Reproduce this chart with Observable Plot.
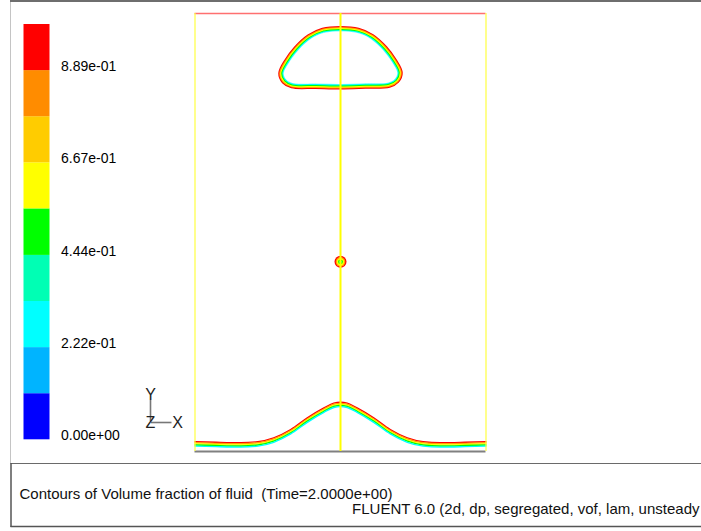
<!DOCTYPE html>
<html>
<head>
<meta charset="utf-8">
<script src="https://cdn.jsdelivr.net/npm/d3@7"></script>
<script src="https://cdn.jsdelivr.net/npm/@observablehq/plot@0.6"></script>
<style>
  html, body { margin: 0; padding: 0; background: #ffffff; }
  #wrap { position: relative; width: 701px; height: 531px; overflow: hidden; background: #fff;
          font-family: "Liberation Sans", Arial, sans-serif; }
  #wrap > svg { position: absolute; left: 0; top: 0; overflow: visible; }
  #frame text { white-space: pre; }
</style>
</head>
<body>
<div id="wrap"></div>
<script>
// ---------------- data ----------------
// legend: contour levels of volume fraction
const levelEdges  = [0, 0.111, 0.222, 0.333, 0.444, 0.556, 0.667, 0.778, 0.889, 1.0];
const levelColors = ["#0000ff", "#00b4ff", "#00ffff", "#00ffb4", "#00ff00", "#ffff00", "#ffcc00", "#ff8c00", "#ff0000"];
const legendTicks  = [0, 0.222, 0.444, 0.667, 0.889];
const legendLabels = ["0.00e+00", "2.22e-01", "4.44e-01", "6.67e-01", "8.89e-01"];

// contour line colours drawn across the interface (outer -> inner)
const interfaceColors = ["#ff0000", "#ffa200", "#ffff00", "#00ff00", "#00ffff"];

// domain (x: -1..1, y: 0..3)
const wallX   = [-1, 1];
const axisX   = [0];
const topY    = [3];
const bottomY = [0];

// large bubble near the top (inner edge of the interface band)
const bubbleX = [0, -0.116, -0.205, -0.291, -0.353, -0.390, -0.373, -0.329, -0.171, 0, 0.171, 0.329, 0.373, 0.390, 0.353, 0.291, 0.205, 0.116];
const bubbleY = [2.877, 2.866, 2.825, 2.747, 2.664, 2.589, 2.548, 2.524, 2.521, 2.517, 2.522, 2.528, 2.552, 2.593, 2.667, 2.750, 2.827, 2.866];

// small droplet on the axis
const dropX = [0];
const dropY = [1.299];

// liquid surface near the bottom (top edge of the band)
const poolX = [-1, -0.856, -0.685, -0.568, -0.459, -0.342, -0.228, -0.114, -0.046, 0, 0.046, 0.114, 0.228, 0.342, 0.459, 0.568, 0.685, 0.856, 1];
const poolY = [0.072, 0.068, 0.065, 0.072, 0.098, 0.155, 0.235, 0.303, 0.336, 0.342, 0.336, 0.303, 0.235, 0.155, 0.098, 0.072, 0.065, 0.068, 0.072];

const captionLine1 = "Contours of Volume fraction of fluid  (Time=2.0000e+00)";
const captionLine2 = "FLUENT 6.0 (2d, dp, segregated, vof, lam, unsteady";

// ---------------- build ----------------
const bubble = bubbleX.map((x, i) => ({x, y: bubbleY[i]}));
const pool   = poolX.map((x, i) => ({x, y: poolY[i]}));
const drop   = dropX.map((x, i) => ({x, y: dropY[i]}));

const bubbleWidths = [11, 9, 7, 5, 3];
const dropRadii    = [6, 4.8, 3.6, 2.4, 1.2];

const marks = [];
// bubble: layered strokes then white interior
interfaceColors.forEach((c, i) => {
  marks.push(Plot.line(bubble, {x: "x", y: "y", curve: "catmull-rom-closed", stroke: c, strokeWidth: bubbleWidths[i]}));
});
marks.push(Plot.line(bubble, {x: "x", y: "y", curve: "catmull-rom-closed", fill: "white", stroke: "white", strokeWidth: 0.5}));
// pool surface: offset lines
interfaceColors.forEach((c, i) => {
  marks.push(Plot.line(pool, {x: "x", y: "y", curve: "monotone-x", stroke: c, strokeWidth: 1.4, dy: 0.7 + i * 1.1}));
});
// droplet
interfaceColors.forEach((c, i) => {
  marks.push(Plot.dot(drop, {x: "x", y: "y", r: dropRadii[i], fill: c, stroke: "none"}));
});
// walls
marks.push(Plot.ruleY(bottomY, {x1: -1, x2: 1, stroke: "#808080", strokeWidth: 2}));
marks.push(Plot.ruleY(topY, {x1: -1, x2: 1, stroke: "#ff7070", strokeWidth: 1.5}));
marks.push(Plot.ruleX(wallX, {y1: 0, y2: 3, stroke: "#ffff40", strokeWidth: 1.2}));
marks.push(Plot.ruleX(axisX, {y1: 0, y2: 3, stroke: "#ffff00", strokeWidth: 2}));

const main = Plot.plot({
  width: 701, height: 531, margin: 0,
  x: {domain: [-1, 1], range: [194.5, 485.5], axis: null},
  y: {domain: [0, 3], range: [451, 13], axis: null},
  style: {background: "transparent", overflow: "visible"},
  marks
});

const bands = levelColors.map((c, i) => ({lo: levelEdges[i], hi: levelEdges[i + 1], color: c}));
const ticks = legendTicks.map((v, i) => ({v, label: legendLabels[i]}));

const legend = Plot.plot({
  width: 200, height: 460, margin: 0,
  x: {domain: [0, 1], range: [23.5, 49.5], axis: null},
  y: {domain: [0, 1], range: [439.3, 24], axis: null},
  color: {type: "identity"},
  style: {background: "transparent", overflow: "visible", fontFamily: "'Liberation Sans', Arial, sans-serif"},
  marks: [
    Plot.rect(bands, {x1: 0, x2: 1, y1: "lo", y2: "hi", fill: "color"}),
    Plot.text(ticks, {x: 1, y: "v", text: "label", dx: 11, dy: -4, textAnchor: "start", lineAnchor: "middle", fontSize: 14, fill: "#000"})
  ]
});

const wrap = document.getElementById("wrap");
const ns = "http://www.w3.org/2000/svg";
const frame = document.createElementNS(ns, "svg");
frame.setAttribute("id", "frame");
frame.setAttribute("width", 701);
frame.setAttribute("height", 531);
frame.innerHTML = `
  <line x1="10.5" y1="0" x2="10.5" y2="463" stroke="#c4c4c4" stroke-width="1"/>
  <line x1="10" y1="1" x2="701" y2="1" stroke="#6e6e6e" stroke-width="2"/>
  <line x1="10.5" y1="463.5" x2="701" y2="463.5" stroke="#6a6a6a" stroke-width="1.2"/>
  <line x1="11" y1="463" x2="11" y2="527" stroke="#555" stroke-width="1.5"/>
  <line x1="10.5" y1="526.5" x2="701" y2="526.5" stroke="#555" stroke-width="1.5"/>
  <line x1="150.5" y1="400" x2="150.5" y2="421" stroke="#777" stroke-width="1.6"/>
  <line x1="151" y1="422.5" x2="171.5" y2="422.5" stroke="#777" stroke-width="1.6"/>
  <g font-family="'Liberation Sans', Arial, sans-serif" font-size="16" fill="#222" text-anchor="middle">
    <text x="150.5" y="400">Y</text>
    <text x="150.5" y="428">Z</text>
    <text x="177.5" y="428">X</text>
  </g>
  <g font-family="'Liberation Sans', Arial, sans-serif" font-size="15" fill="#111">
    <text x="19.5" y="498.5" xml:space="preserve">${captionLine1}</text>
    <text x="699.5" y="514" text-anchor="end">${captionLine2}</text>
  </g>`;
wrap.appendChild(main);
wrap.appendChild(legend);
wrap.appendChild(frame);
</script>
</body>
</html>
